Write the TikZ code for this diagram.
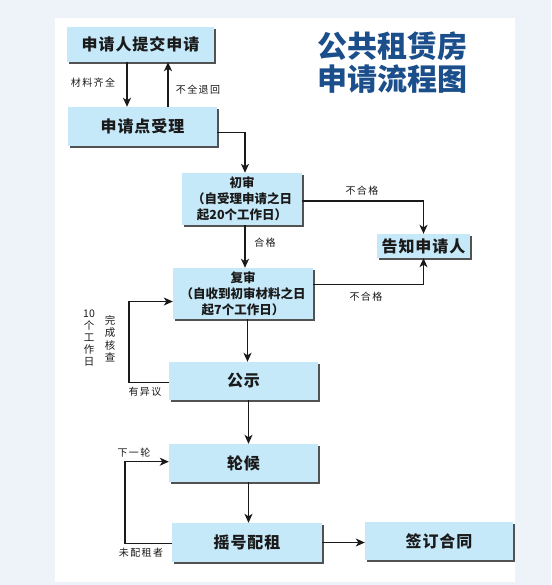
\documentclass[tikz,border=0pt]{standalone}
\usepackage{fontspec}
\setmainfont{Noto Sans CJK SC}
\newfontfamily\labfont[LetterSpace=14]{Noto Sans CJK SC}
\newfontfamily\boxfont[LetterSpace=6]{Noto Sans CJK SC}
\usetikzlibrary{arrows.meta,shadows,calc}
\definecolor{bgout}{HTML}{EEF2F9}
\definecolor{boxfill}{HTML}{C6E9F9}
\definecolor{titleblue}{HTML}{1B4F8C}
\definecolor{txt}{HTML}{1A1A1A}
\begin{document}
\begin{tikzpicture}[x=1pt,y=-1pt,
  box/.style={draw=none, fill=boxfill, inner sep=0pt, align=center, text=txt,
    drop shadow={shadow xshift=1.6pt, shadow yshift=-1.6pt, fill=black!75, opacity=0.9}},
  bigtxt/.style={font=\boxfont\fontsize{16}{19}\selectfont\bfseries},
  smalltxt/.style={font=\fontsize{12.5}{15.8}\selectfont\bfseries},
  lab/.style={font=\labfont\fontsize{10}{12}\selectfont, text=txt, inner sep=0pt},
  vlab/.style={font=\fontsize{10.5}{12}\selectfont, text=txt, inner sep=0pt, align=center},
  arr/.style={-{Stealth[length=9pt,width=8pt,inset=2.5pt]}, line width=1.6pt, draw=txt},
  thinarr/.style={-{Stealth[length=9pt,width=8pt,inset=2.5pt]}, line width=1.2pt, draw=txt},
]
\useasboundingbox (0,0) rectangle (551,585);
\fill[bgout] (0,0) rectangle (551,585);
\fill[white] (55,18) rectangle (515,582);

% title
\node[font=\fontsize{30}{33}\selectfont\bfseries, text=titleblue, align=center, inner sep=0pt] (title) at (392.5,62.5) {公共租赁房\\申请流程图};

% boxes
\node[box,bigtxt,minimum width=147pt,minimum height=35pt] (b1) at (140.5,44.5) {申请人提交申请};
\node[box,bigtxt,minimum width=149pt,minimum height=39pt] (b2) at (142.5,126.5) {申请点受理};
\node[box,smalltxt,minimum width=120pt,minimum height=52pt] (b3) at (242,199) {初审\\（自受理申请之日\\起20个工作日）};
\node[box,bigtxt,minimum width=93pt,minimum height=24pt] (b4) at (423.5,246) {告知申请人};
\node[box,smalltxt,minimum width=140pt,minimum height=51pt] (b5) at (243,293.5) {复审\\（自收到初审材料之日\\起7个工作日）};
\node[box,bigtxt,minimum width=149pt,minimum height=38pt] (b6) at (243.5,381) {公示};
\node[box,bigtxt,minimum width=149pt,minimum height=38pt] (b7) at (243.5,463) {轮候};
\node[box,bigtxt,minimum width=150pt,minimum height=39pt] (b8) at (247,542.5) {摇号配租};
\node[box,bigtxt,minimum width=148pt,minimum height=38pt] (b9) at (439,541) {签订合同};

% helper coordinates
\coordinate (xa) at (127,0);
\coordinate (xb) at (168,0);
\coordinate (xc) at (245,0);
\coordinate (xd) at (247.5,0);
\coordinate (xe) at (248.5,0);
\coordinate (xl1) at (129,0);
\coordinate (xl2) at (125,0);

% connectors
\draw[arr] (b1.south -| xa) -- (b2.north -| xa);
\draw[arr] (b2.north -| xb) -- (b1.south -| xb);
\draw[thinarr] ([yshift=-6pt]b2.east) -| (b3.north -| xc);
\draw[thinarr] ([yshift=-2pt]b3.east) -| (b4.north);
\draw[arr] (b3.south -| xc) -- (b5.north -| xc);
\draw[thinarr] ([yshift=9pt]b5.east) -| (b4.south);
\draw[arr] (b5.south -| xd) -- (b6.north -| xd);
\draw[thinarr] ([yshift=-1.7pt]b6.west) -| ([yshift=-8pt]b5.west -| xl1) -- ([yshift=-8pt]b5.west);
\draw[arr] (b6.south -| xe) -- (b7.north -| xe);
\draw[arr] (b7.south -| xe) -- (b8.north -| xe);
\draw[thinarr] ([yshift=-0.8pt]b8.west) -| ([yshift=1.3pt]b7.west -| xl2) -- ([yshift=1.3pt]b7.west);
\draw[thinarr] (b8.east) -- (b8.east -| b9.west);

% labels
\node[lab] (l1) at (93,83) {材料齐全};
\node[lab] (l2) at (198,90) {不全退回};
\node[lab] (l3) at (362,191) {不合格};
\node[lab] (l4) at (265,243) {合格};
\node[lab] (l5) at (366,297) {不合格};
\node[lab] (l6) at (145,392) {有异议};
\node[lab] (l7) at (134,453) {下一轮};
\node[lab] (l8) at (141,553) {未配租者};
\node[vlab] (l9) at (89,338.5) {10\\个\\工\\作\\日};
\node[vlab, font=\fontsize{10.5}{12.5}\selectfont] (l10) at (110,339) {完\\成\\核\\查};
\end{tikzpicture}
\end{document}
